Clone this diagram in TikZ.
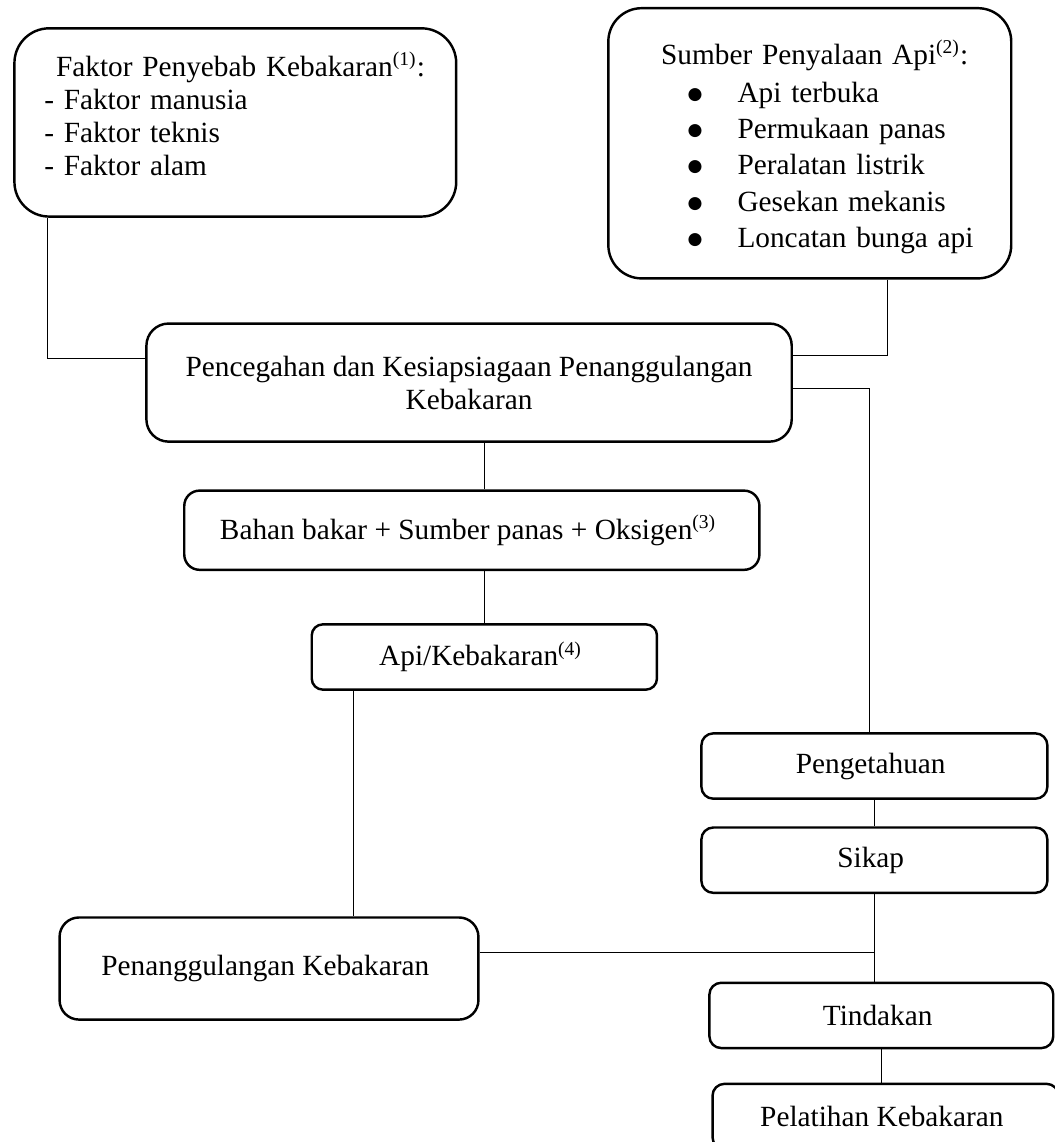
\documentclass[tikz,border=0pt]{standalone}
\usepackage{fontspec}
\setmainfont{Liberation Serif}
\newfontfamily\symfont{DejaVu Sans}
\usetikzlibrary{positioning}

\tikzset{
	rbox/.style = {draw, line width=1pt, rounded corners=0.2cm, align=center, inner sep=0pt,
		font=\fontsize{12pt}{13.5pt}\selectfont},
	conn/.style = {line width=0.4pt}
}
\newcommand{\bigbul}{\makebox[0.30cm][c]{\raisebox{1.2pt}{\symfont\fontsize{7pt}{0pt}\selectfont ●}}}

\begin{document}
\begin{tikzpicture}
		\useasboundingbox (0,0) rectangle (15.18,-16.44);
		
		%----------------------------------------------------------------
		\node(faktor) [rbox, rounded corners=0.5cm, align=left, anchor=north west,
		text width=5.50cm, inner xsep=0.43cm, text height=0.69cm, text depth=2.02cm] at (0.19,-0.39) {
			\hspace*{0.17cm}Faktor Penyebab Kebakaran\textsuperscript{(1)}: \\
			- Faktor manusia \\
			- Faktor teknis \\
			- Faktor alam
		} ;
		
		\node(sumber) [rbox, rounded corners=0.48cm, align=left, anchor=north west,
		font=\fontsize{12pt}{14.8pt}\selectfont,
		text width=5.20cm, inner xsep=0.3cm, text height=0.81cm, text depth=3.08cm] at (8.74,-0.10) {
			\hspace*{0.46cm}Sumber Penyalaan Api\textsuperscript{(2)}: \\[0.03cm]
			\hspace*{0.80cm}\bigbul\hspace{0.46cm}Api terbuka \\
			\hspace*{0.80cm}\bigbul\hspace{0.46cm}Permukaan panas \\
			\hspace*{0.80cm}\bigbul\hspace{0.46cm}Peralatan listrik \\
			\hspace*{0.80cm}\bigbul\hspace{0.46cm}Gesekan mekanis \\
			\hspace*{0.80cm}\bigbul\hspace{0.46cm}Loncatan bunga api
		} ;
		
		%----------------------------------------------------------------
		\node(main) [rbox, rounded corners=0.32cm, anchor=north west,
		minimum width=9.29cm, minimum height=1.70cm] at (2.09,-4.64) {
			Pencegahan dan Kesiapsiagaan Penanggulangan \\ Kebakaran
		} ;
		\node(bahan) [rbox, rounded corners=0.22cm, minimum width=8.28cm, minimum height=1.14cm,
		below=0.67cm of main, xshift=0.04cm] { Bahan bakar + Sumber panas + Oksigen\textsuperscript{(3)} } ;
		\node(api) [rbox, rounded corners=0.16cm, minimum width=4.97cm, minimum height=0.94cm,
		below=0.75cm of bahan, xshift=0.18cm] { Api/Kebakaran\textsuperscript{(4)} } ;
		\node(penang) [rbox, rounded corners=0.28cm, anchor=north west,
		minimum width=6.03cm, minimum height=1.47cm] at (0.84,-13.19) { Penanggulangan Kebakaran } ;
		
		%----------------------------------------------------------------
		\node(tahu) [rbox, rounded corners=0.17cm, anchor=north west,
		minimum width=4.98cm, minimum height=0.94cm] at (10.08,-10.54) { Pengetahuan } ;
		\node(sikap) [rbox, rounded corners=0.17cm, minimum width=4.98cm, minimum height=0.94cm,
		below=0.38cm of tahu] { Sikap } ;
		\node(tindakan) [rbox, rounded corners=0.17cm, minimum width=4.95cm, minimum height=0.94cm,
		below=1.26cm of sikap, xshift=0.10cm] { Tindakan } ;
		\node(pelatihan) [rbox, rounded corners=0.17cm, minimum width=4.98cm, minimum height=0.94cm,
		below=0.48cm of tindakan, xshift=0.06cm] { Pelatihan Kebakaran } ;
		
		%----------------------------------------------------------------
		\draw[conn] ([xshift=0.50cm]faktor.south west) |- ([yshift=0.35cm]main.west);
		\draw[conn] ([xshift=1.12cm]sumber.south) |- ([yshift=0.39cm]main.east);
		\draw[conn] ([yshift=-0.09cm]main.east) -| ([xshift=-0.07cm]tahu.north);
		\draw[conn] (main.south -| api.north) -- (bahan.north -| api.north);
		\draw[conn] (bahan.south -| api.north) -- (api.north);
		\draw[conn] ([xshift=0.62cm]api.south west) -- ([xshift=0.62cm]api.south west |- penang.north);
		\draw[conn] (tahu.south) -- (sikap.north);
		\draw[conn] (sikap.south) -- (sikap.south |- tindakan.north);
		\draw[conn] ([yshift=0.23cm]penang.east) -- ([yshift=0.23cm]penang.east -| sikap.south);
		\draw[conn] (tindakan.south) -- (tindakan.south |- pelatihan.north);
		
\end{tikzpicture}
\end{document}
